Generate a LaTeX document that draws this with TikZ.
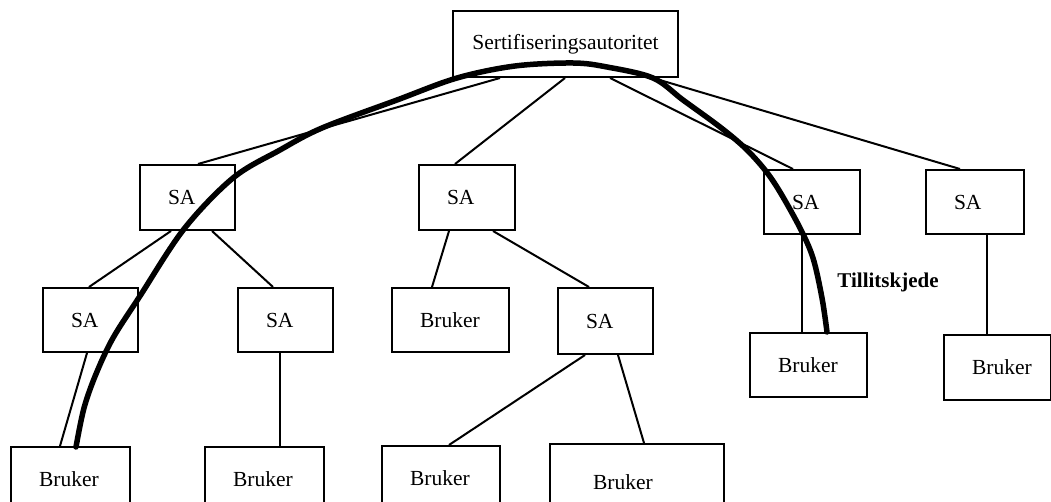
\documentclass[tikz,border=0pt]{standalone}
\usepackage{fontspec}
\setmainfont{Liberation Serif}
\begin{document}
\begin{tikzpicture}[x=1pt,y=-1pt,
  box/.style={draw, line width=2pt, rectangle, anchor=north west,
    inner ysep=0pt, inner xsep=28pt, align=left,
    font=\fontsize{21.5}{24}\selectfont},
  link/.style={line width=2pt},
  chain/.style={line width=5.5pt, line cap=round, line join=round}]
\useasboundingbox (0,0) rectangle (1051,502);
\clip (0,0) rectangle (1051,502);

% root authority
\node[box, inner xsep=11pt, text width=203pt, minimum height=66pt, align=center] (ca) at (452,10) {Sertifiseringsautoritet};

% first level
\node[box, text width=39pt, minimum height=65pt] (sa1) at (139,164) {SA};
\node[box, text width=40pt, minimum height=65pt] (sa2) at (418,164) {SA};
\node[box, text width=40pt, minimum height=64pt] (sa3) at (763,169) {SA};
\node[box, text width=42pt, minimum height=64pt] (sa4) at (925,169) {SA};

% second level
\node[box, text width=39pt, minimum height=64pt] (sa11) at (42,287) {SA};
\node[box, text width=39pt, minimum height=64pt] (sa12) at (237,287) {SA};
\node[box, text width=61pt, minimum height=64pt] (b21) at (391,287) {Bruker};
\node[box, text width=39pt, minimum height=66pt] (sa22) at (557,287) {SA};
\node[box, text width=61pt, minimum height=64pt] (b31) at (749,332) {Bruker};
\node[box, text width=51pt, minimum height=65pt] (b41) at (943,334) {Bruker};

% bottom row
\node[box, text width=63pt, minimum height=64pt] (b111) at (10,446) {Bruker};
\node[box, text width=63pt, minimum height=64pt] (b121) at (204,446) {Bruker};
\node[box, text width=62pt, minimum height=64pt] (b221) at (381,445) {Bruker};
\node[box, inner xsep=43pt, text width=88pt, minimum height=76pt] (b222) at (549,443) {Bruker};

% tree links
\draw[link] ([xshift=48pt]ca.south west) -- ([xshift=59pt]sa1.north west);
\draw[link] ([xshift=113pt]ca.south west) -- ([xshift=37pt]sa2.north west);
\draw[link] ([xshift=158pt]ca.south west) -- ([xshift=30pt]sa3.north west);
\draw[link] ([xshift=201pt]ca.south west) -- ([xshift=35pt]sa4.north west);
\draw[link] ([xshift=32pt]sa1.south west) -- ([xshift=47pt]sa11.north west);
\draw[link] ([xshift=73pt]sa1.south west) -- ([xshift=36pt]sa12.north west);
\draw[link] ([xshift=45pt]sa11.south west) -- ([xshift=50pt]b111.north west);
\draw[link] ([xshift=43pt]sa12.south west) -- ([xshift=76pt]b121.north west);
\draw[link] ([xshift=31pt]sa2.south west) -- ([xshift=41pt]b21.north west);
\draw[link] ([xshift=75pt]sa2.south west) -- ([xshift=32pt]sa22.north west);
\draw[link] ([xshift=28pt]sa22.south west) -- ([xshift=68pt]b221.north west);
\draw[link] ([xshift=61pt]sa22.south west) -- ([xshift=95pt]b222.north west);
\draw[link] ([xshift=39pt]sa3.south west) -- ([xshift=53pt]b31.north west);
\draw[link] ([xshift=62pt]sa4.south west) -- ([xshift=44pt]b41.north west);

% chain of trust from a user up to the root and down to another user
\coordinate (chainstart) at ([xshift=66pt,yshift=-1pt]b111.north west);
\coordinate (chainend) at ([xshift=78pt]b31.north west);
\draw[chain] plot[smooth, tension=0.55] coordinates {
  (chainstart) (84,408) (96,374) (113,338) (140,296) (184,229) (233,178)
  (280,150) (322,128) (397,100) (457,78) (515,66) (573,63) (607,67)
  (653,78) (683,100) (720,127) (745,148) (765,170) (780,192) (800,228)
  (813,258) (822,298) (chainend)};
\node[font=\fontsize{21}{24}\selectfont\bfseries] (chainlabel) at (888,282) {Tillitskjede};
\end{tikzpicture}
\end{document}
